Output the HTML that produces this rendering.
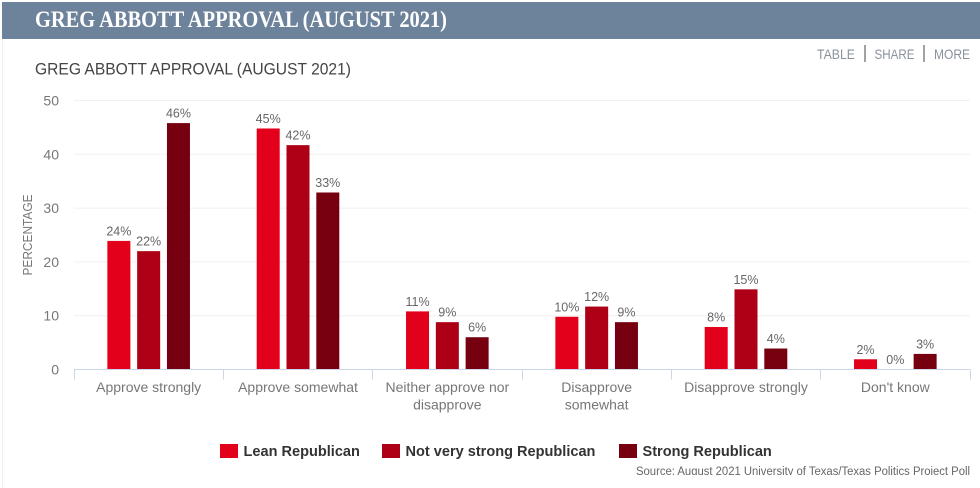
<!DOCTYPE html>
<html lang="en">
<head>
<meta charset="utf-8">
<title>Greg Abbott Approval (August 2021)</title>
<style>
html,body{margin:0;padding:0;background:#fff;}
body{width:980px;height:488px;overflow:hidden;position:relative;}
svg{display:block;}
text{font-family:"Liberation Sans",sans-serif;}
</style>
</head>
<body>
<svg id="chart" width="980" height="488" viewBox="0 0 980 488" xmlns="http://www.w3.org/2000/svg">
  <rect x="2" y="39" width="1" height="449" fill="#f1f1f1"/>
  <rect x="2" y="2" width="978" height="37" fill="#6d829b"/>
  <text x="35" y="27" font-size="23.5" font-weight="700" fill="#fff" textLength="412" lengthAdjust="spacingAndGlyphs" style="font-family:'Liberation Serif',serif">GREG ABBOTT APPROVAL (AUGUST 2021)</text>
  <text x="35" y="74.5" font-size="17" fill="#444" textLength="316" lengthAdjust="spacingAndGlyphs">GREG ABBOTT APPROVAL (AUGUST 2021)</text>
  <text x="817" y="59" font-size="14" fill="#8a929c" textLength="38" lengthAdjust="spacingAndGlyphs">TABLE</text>
  <rect x="864.5" y="45" width="1" height="17" fill="#444"/>
  <text x="874.5" y="59" font-size="14" fill="#8a929c" textLength="40" lengthAdjust="spacingAndGlyphs">SHARE</text>
  <rect x="923.5" y="45" width="1" height="17" fill="#444"/>
  <text x="934" y="59" font-size="14" fill="#8a929c" textLength="36" lengthAdjust="spacingAndGlyphs">MORE</text>
  <text transform="translate(32,235) rotate(-90)" text-anchor="middle" font-size="13" fill="#777" textLength="81" lengthAdjust="spacingAndGlyphs">PERCENTAGE</text>
  <g id="grid"></g>
  <g id="bars"></g>
  <g id="xaxis"></g>
  <g id="legend"></g>
  <text x="970" y="475" text-anchor="end" font-size="11.5" fill="#666" textLength="334" lengthAdjust="spacingAndGlyphs">Source: August 2021 University of Texas/Texas Politics Project Poll</text>
  <rect x="630" y="475" width="350" height="13" fill="#fff"/>
</svg>
<script>
var categories = [["Approve strongly"], ["Approve somewhat"], ["Neither approve nor", "disapprove"], ["Disapprove", "somewhat"], ["Disapprove strongly"], ["Don't know"]];
var leanRepublican = [23.9, 44.8, 10.8, 9.8, 7.9, 1.9];
var notVeryStrongRepublican = [22, 41.7, 8.8, 11.7, 14.9, 0];
var strongRepublican = [45.8, 32.9, 6, 8.8, 3.9, 2.9];
var seriesNames = ["Lean Republican", "Not very strong Republican", "Strong Republican"];
var yTicks = [0, 10, 20, 30, 40, 50];

var NS = "http://www.w3.org/2000/svg";
var colors = ["#e2001a", "#ad0017", "#760010"];
var plotLeft = 74, plotRight = 970, plotTop = 100.5, plotBottom = 369.5;
var yMax = 50;
var bandWidth = (plotRight - plotLeft) / categories.length;
var barWidth = 23, barStep = 29.8;

function yScale(v) { return plotBottom - (v / yMax) * (plotBottom - plotTop); }
function xBand(i) { return plotLeft + i * bandWidth; }
function make(tag, attrs, parent, txt) {
  var el = document.createElementNS(NS, tag);
  for (var k in attrs) { el.setAttribute(k, attrs[k]); }
  if (txt !== undefined) { el.textContent = txt; }
  parent.appendChild(el);
  return el;
}

var grid = document.getElementById("grid");
yTicks.forEach(function (t) {
  var y = yScale(t);
  if (t !== 0) {
    var line = make("line", {x1: plotLeft, x2: plotRight, y1: y, y2: y, stroke: "#f0f0f0", "stroke-width": 1}, grid);
    
    
  }
  var label = make("text", {x: 59, y: y + 5, "text-anchor": "end", "font-size": 14, fill: "#777"}, grid, String(t));
  
  
});

var barsGroup = document.getElementById("bars");
var allSeries = [leanRepublican, notVeryStrongRepublican, strongRepublican];
allSeries.forEach(function (values, s) {
  values.forEach(function (v, i) {
    var cx = xBand(i) + bandWidth / 2 + (s - 1) * barStep;
    var top = yScale(v);
    if (v > 0) {
      var bar = make("rect", {x: cx - barWidth / 2, y: top, width: barWidth, height: plotBottom - top, fill: colors[s]}, barsGroup);
      
      
    }
    var val = make("text", {x: cx, y: top - 5.5, "text-anchor": "middle", "font-size": 12.5, fill: "#666"}, barsGroup, Math.round(v) + "%");
    
    
  });
});

var xaxis = document.getElementById("xaxis");
var axisLine = make("line", {x1: plotLeft, x2: plotRight, y1: plotBottom, y2: plotBottom, stroke: "#ccd6eb", "stroke-width": 1}, xaxis);


for (var i = 0; i <= categories.length; i++) {
  var tx = Math.floor(xBand(i)) + 0.5;
  var tick = make("line", {x1: tx, x2: tx, y1: plotBottom, y2: plotBottom + 10, stroke: "#ccd6eb", "stroke-width": 1}, xaxis);
  
  
}
categories.forEach(function (lines, i) {
  lines.forEach(function (line, j) {
    var label = make("text", {x: xBand(i) + bandWidth / 2, y: 392 + j * 17.5, "text-anchor": "middle", "font-size": 14, fill: "#777"}, xaxis, line);
    
    
  });
});

var legend = document.getElementById("legend");
var swatchX = [220, 382, 619];
seriesNames.forEach(function (name, s) {
  var swatch = make("rect", {x: swatchX[s], y: 444, width: 18, height: 14, fill: colors[s]}, legend);
  
  
  var label = make("text", {x: swatchX[s] + 23.5, y: 456, "font-size": 14.55, "font-weight": 700, fill: "#333"}, legend, name);
  
  
});
</script>
</body>
</html>
